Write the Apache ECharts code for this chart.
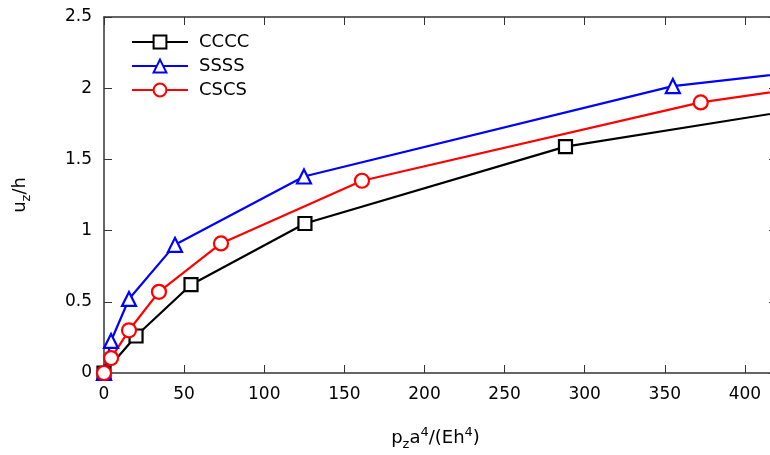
<!DOCTYPE html>
<html>
<head>
<meta charset="utf-8">
<script src="https://cdn.jsdelivr.net/npm/echarts@6/dist/echarts.min.js"></script>
<style>
  html, body { margin: 0; padding: 0; background: #fff; }
  #chart { width: 770px; height: 455px; }
</style>
</head>
<body>
<div id="chart"></div>
<script>
// Normalised load p_z a^4/(E h^4) against deflection u_z/h for three edge conditions
const seriesNames = ['CCCC', 'SSSS', 'CSCS'];

const ccccLoad = [0, 20, 54.3, 125.4, 288, 500];
const ccccDefl = [0, 0.26, 0.62, 1.05, 1.59, 1.97];

const ssssLoad = [0, 4.4, 15.6, 44.3, 124.8, 355, 500];
const ssssDefl = [0, 0.225, 0.52, 0.90, 1.38, 2.015, 2.20];

const cscsLoad = [0, 4.4, 15.6, 34.3, 73, 161, 372.4, 500];
const cscsDefl = [0, 0.105, 0.30, 0.57, 0.91, 1.35, 1.90, 2.11];

const xTicks = [0, 50, 100, 150, 200, 250, 300, 350, 400];
const yTicks = [0, 0.5, 1, 1.5, 2, 2.5];

const pairs = (xs, ys) => xs.map((x, i) => [x, ys[i]]);

const FONT = 'DejaVu Sans';
const AXIS_COLOR = '#333';

function makeSeries(name, data, color, symbol, size) {
  return {
    name: name,
    type: 'line',
    data: data,
    symbol: symbol,
    symbolSize: size,
    clip: true,
    lineStyle: { color: color, width: 2.2 },
    itemStyle: { color: '#fff', borderColor: color, borderWidth: 2.2 },
    emphasis: { disabled: true },
    z: 3
  };
}

const chart = echarts.init(document.getElementById('chart'), null, { renderer: 'canvas' });

const xLabelFmt = v => (xTicks.indexOf(v) >= 0 ? String(v) : '');
const yLabelFmt = v => (yTicks.indexOf(v) >= 0 ? String(v) : '');

chart.setOption({
  animation: false,
  backgroundColor: '#fff',
  textStyle: { fontFamily: FONT },
  // plot frame runs slightly past the right edge of the canvas
  grid: { left: 104, top: 17, width: 673, height: 356, containLabel: false, outerBoundsMode: 'none' },
  legend: {
    data: seriesNames,
    orient: 'vertical',
    left: 126,
    top: 28,
    itemWidth: 56,
    itemHeight: 16,
    itemGap: 6,
    textStyle: { fontFamily: FONT, fontSize: 18, color: '#000', padding: [0, 0, 0, 6] }
  },
  xAxis: [
    {
      type: 'value',
      min: 0,
      max: 420,
      interval: 50,
      name: '{n|p}{sub|z}{n|a}{sup|4}{n|/(Eh}{sup|4}{n|)}',
      nameLocation: 'middle',
      nameGap: 53,
      nameTextStyle: {
        fontFamily: FONT,
        color: '#000',
        padding: [0, 10, 0, 0],
        rich: {
          n: { fontFamily: FONT, fontSize: 18, color: '#000' },
          sub: { fontFamily: FONT, fontSize: 13, color: '#000', padding: [12, 0, 0, 0] },
          sup: { fontFamily: FONT, fontSize: 13, color: '#000', padding: [0, 0, 12, 0] }
        }
      },
      axisLine: { show: true, onZero: false, lineStyle: { color: AXIS_COLOR, width: 1.5 } },
      axisTick: { show: true, inside: true, length: 8, lineStyle: { color: AXIS_COLOR, width: 1 } },
      axisLabel: { show: true, formatter: xLabelFmt, margin: 13, fontFamily: FONT, fontSize: 17, color: '#000', showMaxLabel: false },
      splitLine: { show: false }
    },
    {
      type: 'value',
      position: 'top',
      min: 0,
      max: 420,
      interval: 50,
      axisLine: { show: true, onZero: false, lineStyle: { color: AXIS_COLOR, width: 1.5 } },
      axisTick: { show: true, inside: true, length: 8, lineStyle: { color: AXIS_COLOR, width: 1 } },
      axisLabel: { show: false },
      splitLine: { show: false }
    }
  ],
  yAxis: [
    {
      type: 'value',
      min: 0,
      max: 2.5,
      interval: 0.5,
      name: '{n|u}{sub|z}{n|/h}',
      nameLocation: 'middle',
      nameRotate: 90,
      nameGap: 71,
      nameTextStyle: {
        fontFamily: FONT,
        color: '#000',
        rich: {
          n: { fontFamily: FONT, fontSize: 18, color: '#000' },
          sub: { fontFamily: FONT, fontSize: 13, color: '#000', padding: [12, 0, 0, 0] }
        }
      },
      axisLine: { show: true, onZero: false, lineStyle: { color: AXIS_COLOR, width: 1.5 } },
      axisTick: { show: true, inside: true, length: 8, lineStyle: { color: AXIS_COLOR, width: 1 } },
      axisLabel: { show: true, formatter: yLabelFmt, margin: 12, fontFamily: FONT, fontSize: 17, color: '#000' },
      splitLine: { show: false }
    },
    {
      type: 'value',
      position: 'right',
      min: 0,
      max: 2.5,
      interval: 0.5,
      axisLine: { show: true, onZero: false, lineStyle: { color: AXIS_COLOR, width: 1.5 } },
      axisTick: { show: true, inside: true, length: 8, lineStyle: { color: AXIS_COLOR, width: 1 } },
      axisLabel: { show: false },
      splitLine: { show: false }
    }
  ],
  series: [
    makeSeries('CCCC', pairs(ccccLoad, ccccDefl), '#000000', 'rect', 13),
    makeSeries('SSSS', pairs(ssssLoad, ssssDefl), '#0000ff', 'triangle', 14),
    makeSeries('CSCS', pairs(cscsLoad, cscsDefl), '#ff0000', 'circle', 14)
  ]
});
</script>
</body>
</html>
